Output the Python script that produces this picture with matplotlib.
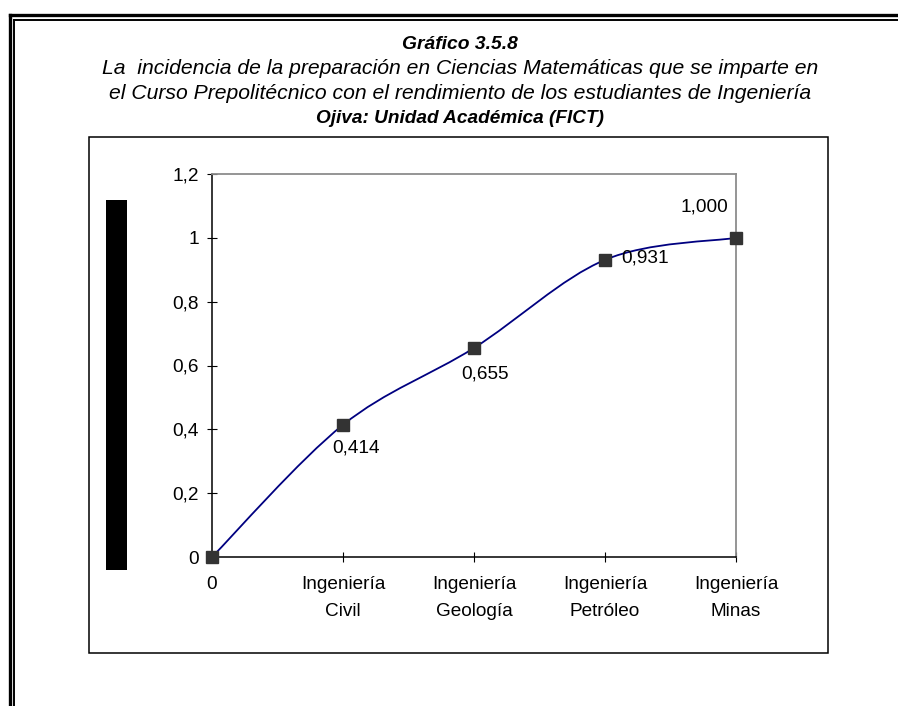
import matplotlib
matplotlib.use("Agg")
import matplotlib.pyplot as plt
from matplotlib.path import Path
from matplotlib.patches import PathPatch, Rectangle
from matplotlib.lines import Line2D
import numpy as np

plt.rcParams['font.family'] = ['Liberation Sans', 'DejaVu Sans']

categories = ["0", "Ingeniería\nCivil", "Ingeniería\nGeología", "Ingeniería\nPetróleo", "Ingeniería\nMinas"]
values = [0.0, 0.414, 0.655, 0.931, 1.000]
value_labels = ["", "0,414", "0,655", "0,931", "1,000"]
yticks = [0, 0.2, 0.4, 0.6, 0.8, 1.0, 1.2]
ytick_labels = ["0", "0,2", "0,4", "0,6", "0,8", "1", "1,2"]
title_lines = ["Gráfico 3.5.8",
               "La  incidencia de la preparación en Ciencias Matemáticas que se imparte en",
               "el Curso Prepolitécnico con el rendimiento de los estudiantes de Ingeniería",
               "Ojiva: Unidad Académica (FICT)"]

W, H = 898, 706
fig = plt.figure(figsize=(W / 100, H / 100), dpi=100)
FS = 13.7

def fx(px):
    return px / W

def fy(py):
    return 1 - py / H

# outer double border (left and top)
fig.add_artist(Line2D([fx(9.7), fx(9.7)], [fy(14.5), fy(H + 5)], color='black', lw=2.4, transform=fig.transFigure))
fig.add_artist(Line2D([fx(9.7), fx(W + 5)], [fy(14.5), fy(14.5)], color='black', lw=2.4, transform=fig.transFigure))
fig.add_artist(Line2D([fx(14.3), fx(14.3)], [fy(19.5), fy(H + 5)], color='black', lw=1.4, transform=fig.transFigure))
fig.add_artist(Line2D([fx(14.3), fx(W + 5)], [fy(19.5), fy(19.5)], color='black', lw=1.4, transform=fig.transFigure))

# chart area box
fig.add_artist(Rectangle((fx(89), fy(653)), fx(828) - fx(89), fy(137) - fy(653),
                         transform=fig.transFigure, fill=False, edgecolor='black', lw=1.1))
# black bar on the left
fig.add_artist(Rectangle((fx(106), fy(570)), fx(127) - fx(106), fy(200) - fy(570),
                         transform=fig.transFigure, facecolor='black', edgecolor='none'))

# titles
baselines = [49, 74, 99, 123]
title_sizes = [13.9, 15.2, 15.2, 13.7]
for i, (t, b, s) in enumerate(zip(title_lines, baselines, title_sizes)):
    fig.text(fx(460), fy(b), t, ha='center', va='baseline', fontsize=s, style='italic',
             fontweight='bold' if i in (0, 3) else 'normal')

ax = fig.add_axes([fx(212), fy(557), fx(736) - fx(212), fy(174) - fy(557)])
x = np.arange(len(values))

# smoothed line (Catmull-Rom -> cubic Bezier)
pts = np.column_stack([x, values]).astype(float)
ext = np.vstack([pts[0], pts, pts[-1]])
verts = [tuple(pts[0])]
codes = [Path.MOVETO]
for i in range(len(pts) - 1):
    p0, p1, p2, p3 = ext[i], ext[i + 1], ext[i + 2], ext[i + 3]
    c1 = p1 + (p2 - p0) / 6.0
    c2 = p2 - (p3 - p1) / 6.0
    verts += [tuple(c1), tuple(c2), tuple(p2)]
    codes += [Path.CURVE4] * 3
ax.add_patch(PathPatch(Path(verts, codes), facecolor='none', edgecolor='#000080', lw=1.3, zorder=3))

ax.plot(x, values, linestyle='none', marker='s', markersize=9.2, color='#333333',
        markeredgecolor='#333333', zorder=4, clip_on=False)

offsets = [None, (13, -23, 'center'), (11, -26, 'center'), (16, 2, 'left'), (-32, 31, 'center')]
for xi, v, lab, off in zip(x, values, value_labels, offsets):
    if off is None:
        continue
    dx, dy, ha = off
    ax.annotate(lab, (xi, v), xytext=(dx * 0.72, dy * 0.72), textcoords='offset points',
                ha=ha, va='center', fontsize=FS, color='black')

ax.set_xlim(0, len(values) - 1)
ax.set_ylim(0, 1.2)
ax.set_xticks(x)
ax.set_xticklabels(categories, fontsize=FS, linespacing=1.75)
ax.set_yticks(yticks)
ax.set_yticklabels(ytick_labels, fontsize=FS)
ax.tick_params(axis='both', direction='inout', length=7.2, width=0.8, color='black')
ax.tick_params(axis='y', pad=6)
ax.tick_params(axis='x', pad=10)
for s in ['left', 'bottom']:
    ax.spines[s].set_color('black')
    ax.spines[s].set_linewidth(1.1)
for s in ['top', 'right']:
    ax.spines[s].set_color('#8c8c8c')
    ax.spines[s].set_linewidth(1.3)
ax.set_facecolor('white')

fig.savefig("out.png", dpi=100)
